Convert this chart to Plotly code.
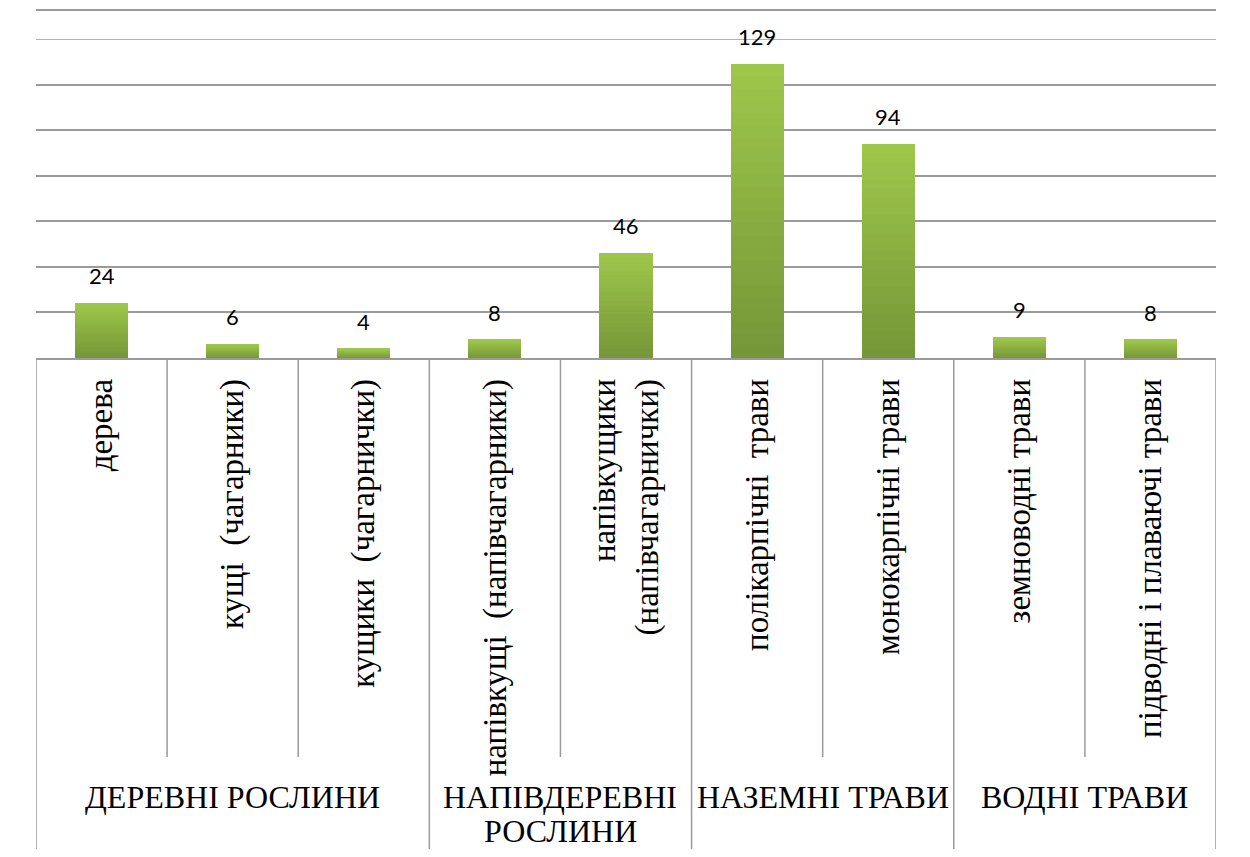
import plotly.graph_objects as go

categories = ["дерева", "кущі  (чагарники)", "кущики  (чагарнички)",
              "напівкущі  (напівчагарники)", "напівкущики<br>(напівчагарнички)",
              "полікарпічні  трави", "монокарпічні трави", "земноводні трави",
              "підводні і плаваючі трави"]
values = [24, 6, 4, 8, 46, 129, 94, 9, 8]
groups = ["ДЕРЕВНІ РОСЛИНИ", "НАПІВДЕРЕВНІ<br>РОСЛИНИ", "НАЗЕМНІ ТРАВИ", "ВОДНІ ТРАВИ"]
group_sizes = [3, 2, 2, 2]

OFF = 8  # page body margin
W, H = 1250 - OFF, 857 - 2 * OFF
L, R, T = 36 - OFF, 34, 39 - OFF
plot_w = W - L - R
plot_h = 319
B = H - T - plot_h
SERIF = "Liberation Serif"

top_rgb = (158, 198, 74)
bot_rgb = (118, 151, 56)
N = 24

fig = go.Figure()
x = list(range(len(categories)))
for k in range(N):
    f = k / (N - 1)
    c = tuple(int(round(bot_rgb[i] + (top_rgb[i] - bot_rgb[i]) * f)) for i in range(3))
    fig.add_trace(go.Bar(
        x=x, y=[v / N for v in values], width=0.405,
        marker=dict(color="rgb(%d,%d,%d)" % c, line=dict(width=0)),
        showlegend=False, hoverinfo="skip"))

def py_to_paper(py):
    return (H - B - (py - OFF)) / plot_h

def px_to_x(px):
    return -0.5 + (px - 36) / plot_w * len(categories)

annotations = []
for xi, v in zip(x, values):
    annotations.append(dict(x=xi, y=v, xref="x", yref="y", text=str(v), showarrow=False,
                            yanchor="bottom", xanchor="center", yshift=12,
                            font=dict(family="Lato", size=22, color="#000")))

shapes = []
bounds = [i - 0.5 for i in range(len(categories) + 1)]
group_edges = [-0.5]
acc = -0.5
for s in group_sizes:
    acc += s
    group_edges.append(acc)
for b in bounds:
    is_group = any(abs(b - g) < 1e-9 for g in group_edges)
    shapes.append(dict(type="line", xref="x", yref="paper", x0=b, x1=b,
                       y0=0, y1=py_to_paper(860 if is_group else 757),
                       line=dict(color="#9a9a9a", width=1.5)))
# top gridline
shapes.append(dict(type="line", xref="paper", yref="y", x0=0, x1=1, y0=140, y1=140,
                   line=dict(color="#9a9a9a", width=1.5)))
# outer frame (top, left, right)
frame = dict(color="#9a9a9a", width=2)
xl, xr = px_to_x(10), px_to_x(1245)
shapes.append(dict(type="line", xref="x", yref="paper", x0=xl, x1=xr,
                   y0=py_to_paper(10), y1=py_to_paper(10), line=frame))
shapes.append(dict(type="line", xref="x", yref="paper", x0=xl, x1=xl,
                   y0=py_to_paper(10), y1=py_to_paper(860), line=frame))
shapes.append(dict(type="line", xref="x", yref="paper", x0=xr, x1=xr,
                   y0=py_to_paper(10), y1=py_to_paper(860), line=frame))

start = -0.5
for g, s in zip(groups, group_sizes):
    cx = start + s / 2
    for li, line in enumerate(g.split("<br>")):
        annotations.append(dict(x=cx, xref="x", y=py_to_paper(797 + 34 * li), yref="paper",
                                text=line, showarrow=False, yanchor="middle", xanchor="center",
                                font=dict(family=SERIF, size=32, color="#000")))
    start += s

fig.update_layout(
    width=W, height=H,
    margin=dict(l=L, r=R, t=T, b=B),
    paper_bgcolor="white", plot_bgcolor="white",
    barmode="stack", bargap=0,
    shapes=shapes, annotations=annotations,
    xaxis=dict(range=[-0.5, len(categories) - 0.5], tickmode="array", tickvals=x,
               ticktext=categories, tickangle=-90, showgrid=False, zeroline=False,
               showline=True, linecolor="#9a9a9a", linewidth=1.5,
               ticks="", ticklabelstandoff=6,
               tickfont=dict(family=SERIF, size=33, color="#000")),
    yaxis=dict(range=[0, 140], dtick=20, showgrid=True, gridcolor="#9a9a9a", gridwidth=1.5,
               showticklabels=False, zeroline=False, showline=False),
)

fig.write_html("out.html")
